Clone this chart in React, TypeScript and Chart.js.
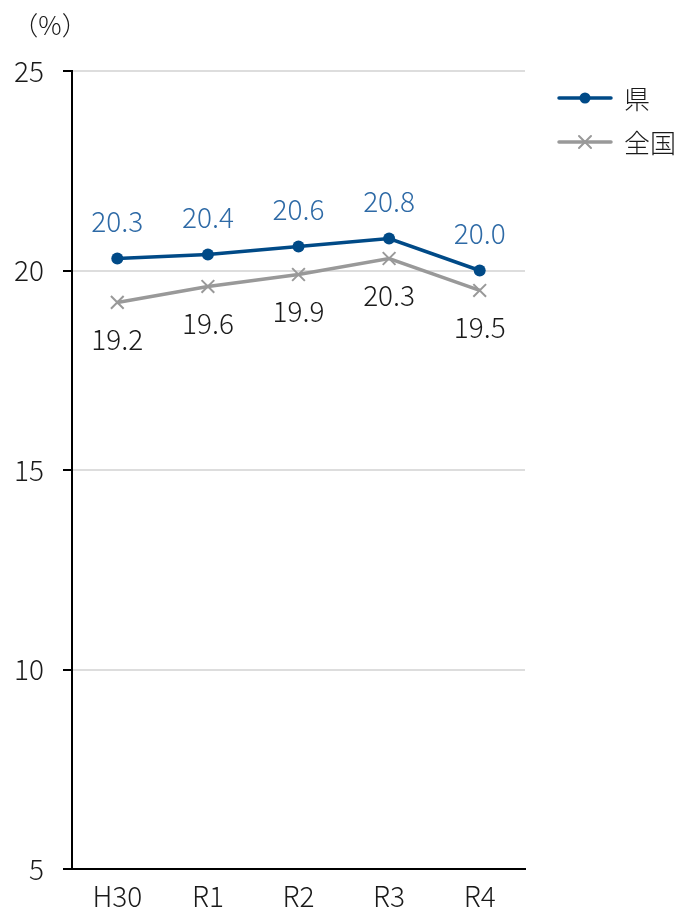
import React, { useEffect, useRef } from "react";
import { Chart, registerables } from "chart.js";

Chart.register(...registerables);

const categories = ["H30", "R1", "R2", "R3", "R4"];
const prefValues = [20.3, 20.4, 20.6, 20.8, 20.0];
const nationalValues = [19.2, 19.6, 19.9, 20.3, 19.5];
const seriesNames = ["県", "全国"];
const unitLabel = "（%）";

const FONT = "'Noto Sans CJK JP', 'Noto Sans', sans-serif";
const BLUE = "#004a87";
const BLUE_LABEL = "#2e6aa6";
const GRAY = "#999999";
const TEXT = "#1a1a1a";

const overlayPlugin = {
  id: "overlay",
  afterDatasetsDraw(chart: any) {
    const ctx = chart.ctx;
    ctx.save();
    ctx.font = `300 28px ${FONT}`;
    ctx.textAlign = "center";
    ctx.textBaseline = "middle";
    const m0 = chart.getDatasetMeta(0);
    m0.data.forEach((pt: any, i: number) => {
      ctx.fillStyle = BLUE_LABEL;
      ctx.fillText(prefValues[i].toFixed(1), pt.x, pt.y - 37);
    });
    const m1 = chart.getDatasetMeta(1);
    m1.data.forEach((pt: any, i: number) => {
      ctx.fillStyle = TEXT;
      ctx.fillText(nationalValues[i].toFixed(1), pt.x, pt.y + 37);
    });
    ctx.font = `300 26px ${FONT}`;
    ctx.fillStyle = TEXT;
    ctx.fillText(unitLabel, 50, 25);
    const rows = [
      { y: 98, color: BLUE, marker: "circle" },
      { y: 142, color: GRAY, marker: "cross" },
    ];
    rows.forEach((r, i) => {
      ctx.strokeStyle = r.color;
      ctx.lineWidth = 3.5;
      ctx.lineCap = "round";
      ctx.beginPath();
      ctx.moveTo(559, r.y);
      ctx.lineTo(611, r.y);
      ctx.stroke();
      if (r.marker === "circle") {
        ctx.fillStyle = r.color;
        ctx.beginPath();
        ctx.arc(585, r.y, 5.5, 0, Math.PI * 2);
        ctx.fill();
      } else {
        ctx.lineWidth = 2;
        ctx.beginPath();
        ctx.moveTo(579, r.y - 6);
        ctx.lineTo(591, r.y + 6);
        ctx.moveTo(591, r.y - 6);
        ctx.lineTo(579, r.y + 6);
        ctx.stroke();
      }
      ctx.fillStyle = TEXT;
      ctx.font = `300 26px ${FONT}`;
      ctx.textAlign = "left";
      ctx.fillText(seriesNames[i], 624, r.y + 1);
    });
    ctx.restore();
  },
};

export default function App() {
  const ref = useRef<HTMLCanvasElement>(null);
  useEffect(() => {
    document.body.style.margin = "0";
    const chart = new Chart(ref.current!, {
      type: "line",
      data: {
        labels: categories,
        datasets: [
          {
            label: seriesNames[0],
            data: prefValues,
            borderColor: BLUE,
            backgroundColor: BLUE,
            borderWidth: 3.5,
            pointStyle: "circle",
            pointRadius: 6,
            pointBorderWidth: 0,
          },
          {
            label: seriesNames[1],
            data: nationalValues,
            borderColor: GRAY,
            backgroundColor: GRAY,
            borderWidth: 3.5,
            pointStyle: "crossRot",
            pointRadius: 9,
            pointBorderWidth: 2,
          },
        ],
      },
      options: {
        animation: false,
        responsive: false,
        layout: { padding: { top: 71, right: 157, left: 0, bottom: 0 } },
        plugins: { legend: { display: false }, tooltip: { enabled: false } },
        scales: {
          x: {
            offset: true,
            grid: { display: false },
            border: { display: true, color: "#000", width: 2 },
            ticks: {
              color: TEXT,
              font: { family: FONT, size: 28, weight: "300" as any },
              padding: 3,
            },
            afterFit(scale: any) {
              scale.height = 40;
            },
          },
          y: {
            min: 5,
            max: 25,
            ticks: {
              stepSize: 5,
              color: TEXT,
              font: { family: FONT, size: 28, weight: "300" as any },
              padding: 19,
            },
            grid: {
              color: "#dddddd",
              lineWidth: 2,
              tickColor: "#000",
              tickLength: 9,
              tickWidth: 2,
            },
            border: { display: true, color: "#000", width: 2 },
            afterFit(scale: any) {
              scale.width = 72;
            },
          },
        },
      },
      plugins: [overlayPlugin],
    });
    return () => chart.destroy();
  }, []);
  return (
    <div style={{ position: "absolute", left: 0, top: 0, width: 682, height: 909 }}>
      <canvas ref={ref} width={682} height={909} style={{ width: 682, height: 909 }} />
    </div>
  );
}
